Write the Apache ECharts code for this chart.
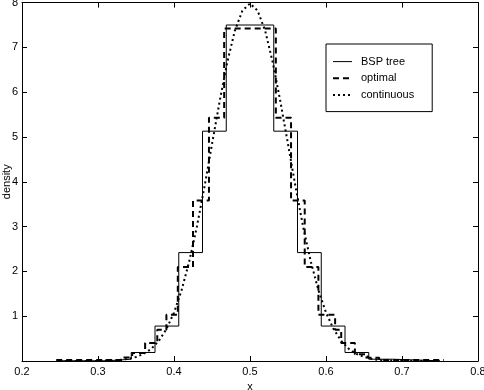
<!DOCTYPE html>
<html><head><meta charset="utf-8">
<script src="https://cdn.jsdelivr.net/npm/echarts@6/dist/echarts.min.js"></script>
<style>html,body{margin:0;padding:0;background:#fff}#c{width:484px;height:390px}</style>
</head><body><div id="c"></div>
<script>
// BSP tree step function: left bin edges and densities (value holds until next edge)
const bspEdges = [0.25, 0.3125, 0.34375, 0.375, 0.40625, 0.4375, 0.46875, 0.53125, 0.5625, 0.59375, 0.625, 0.65625, 0.6875, 0.75];
const bspValues = [0.005, 0.04, 0.19, 0.78, 2.42, 5.13, 7.5, 5.13, 2.42, 0.78, 0.19, 0.04, 0.005, 0.005];
// optimal step function
const optEdges = [0.245, 0.33, 0.345, 0.362, 0.378, 0.39, 0.405, 0.425, 0.446, 0.466, 0.534, 0.554, 0.572, 0.59, 0.612, 0.62, 0.638, 0.655, 0.67, 0.755];
const optValues = [0.02, 0.08, 0.18, 0.40, 0.70, 1.03, 2.10, 3.58, 5.43, 7.42, 5.43, 3.58, 2.10, 1.03, 0.70, 0.40, 0.15, 0.07, 0.02, 0.02];
// continuous density
const contX = [0.25,0.30,0.31,0.32,0.33,0.34,0.35,0.36,0.37,0.38,0.39,0.40,0.41,0.42,0.43,0.44,0.45,0.46,0.47,0.48,0.49,0.50,0.51,0.52,0.53,0.54,0.55,0.56,0.57,0.58,0.59,0.60,0.61,0.62,0.63,0.64,0.65,0.66,0.67,0.68,0.69,0.70,0.75];
const contY = [0.00,0.00,0.01,0.01,0.02,0.05,0.09,0.16,0.27,0.45,0.71,1.08,1.58,2.22,2.99,3.88,4.84,5.79,6.66,7.37,7.82,7.98,7.82,7.37,6.66,5.79,4.84,3.88,2.99,2.22,1.58,1.08,0.71,0.45,0.27,0.16,0.09,0.05,0.02,0.01,0.01,0.00,0.00];
const xTickLabels = [0.2, 0.3, 0.4, 0.5, 0.6, 0.7, 0.8];
const yTickLabels = [1, 2, 3, 4, 5, 6, 7, 8];
const seriesNames = ['BSP tree', 'optimal', 'continuous'];

const zip = (a, b) => a.map((v, i) => [v, b[i]]);
const font = 'Liberation Sans, Arial, Helvetica, sans-serif';
const chart = echarts.init(document.getElementById('c'), null, {renderer: 'canvas'});
const axisCommon = {
  axisLine: {show: true, onZero: false, lineStyle: {color: '#000', width: 1}},
  axisTick: {show: true, inside: true, length: 5, lineStyle: {color: '#000'}},
  splitLine: {show: false}
};
const styles = [
  {color: '#000', width: 1, type: 'solid'},
  {color: '#000', width: 2, type: [6, 4]},
  {color: '#000', width: 2, type: [2, 3]}
];
chart.setOption({
  animation: false,
  backgroundColor: '#fff',
  grid: {left: 22, right: 6, top: 2.6, bottom: 29, containLabel: false, outerBoundsMode: 'none'},
  xAxis: [
    Object.assign({type: 'value', min: 0.2, max: 0.8, interval: 0.1, position: 'bottom',
      name: 'x', nameLocation: 'middle', nameGap: 18,
      nameTextStyle: {color: '#000', fontSize: 11, fontFamily: font},
      axisLabel: {color: '#000', fontSize: 11, fontFamily: font, margin: 5,
        formatter: v => { const t = xTickLabels.find(k => Math.abs(k - v) < 1e-9); return t === undefined ? '' : t.toFixed(1); }}
    }, axisCommon),
    Object.assign({type: 'value', min: 0.2, max: 0.8, interval: 0.1, position: 'top', axisLabel: {show: false}}, axisCommon)
  ],
  yAxis: [
    Object.assign({type: 'value', min: 0, max: 8, interval: 1, position: 'left',
      name: 'density', nameLocation: 'middle', nameGap: 10, nameMoveOverlap: false,
      nameTextStyle: {color: '#000', fontSize: 11, fontFamily: font},
      axisLabel: {color: '#000', fontSize: 11, fontFamily: font, margin: 4,
        formatter: v => yTickLabels.includes(v) ? String(v) : ''}
    }, axisCommon),
    Object.assign({type: 'value', min: 0, max: 8, interval: 1, position: 'right', axisLabel: {show: false}}, axisCommon)
  ],
  legend: {
    show: true, orient: 'vertical', left: 326, top: 44,
    data: seriesNames.map((n, i) => ({name: n, itemStyle: {opacity: 0}, lineStyle: styles[i]})),
    backgroundColor: '#fff', borderColor: '#000', borderWidth: 1, borderRadius: 0,
    padding: [12, 18, 11, 6], itemGap: 5.5, itemWidth: 19, itemHeight: 14,
    textStyle: {color: '#000', fontSize: 11, fontFamily: font, padding: [0, 0, 0, 4]},
    selectedMode: false
  },
  series: [
    {name: seriesNames[0], type: 'line', step: 'end', symbol: 'none', data: zip(bspEdges, bspValues),
      lineStyle: styles[0], itemStyle: {color: '#000'}, z: 3},
    {name: seriesNames[1], type: 'line', step: 'end', symbol: 'none', data: zip(optEdges, optValues),
      lineStyle: styles[1], itemStyle: {color: '#000'}, z: 4},
    {name: seriesNames[2], type: 'line', symbol: 'none', data: zip(contX, contY),
      lineStyle: styles[2], itemStyle: {color: '#000'}, z: 5}
  ]
});
</script></body></html>
